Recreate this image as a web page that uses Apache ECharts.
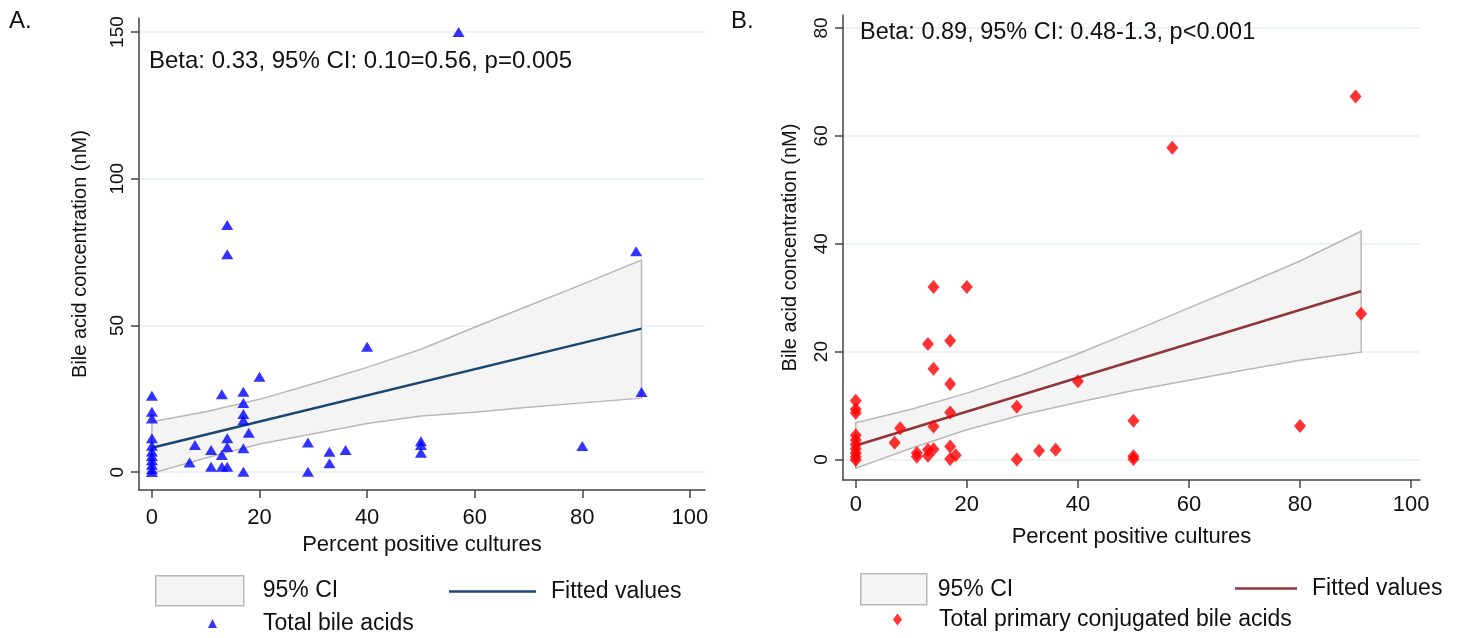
<!DOCTYPE html>
<html>
<head>
<meta charset="utf-8">
<script src="https://cdn.jsdelivr.net/npm/echarts@6/dist/echarts.min.js"></script>
<style>
  html, body { margin: 0; padding: 0; background: #fff; }
  #chart { width: 1460px; height: 638px; }
</style>
</head>
<body>
<div id="chart"></div>
<script>
// tick labels
var xTicks = [0, 20, 40, 60, 80, 100]
var yTicksA = [0, 50, 100, 150]
var yTicksB = [0, 20, 40, 60, 80]

// A. total bile acids vs percent positive cultures
var pctA = [0, 0, 0, 0, 0, 0, 0, 0, 0, 0, 0,
  7, 8, 11, 11, 13, 13, 13, 14, 14, 14, 14, 14,
  17, 17, 17, 17, 17, 17, 18, 20, 29, 29, 33, 33, 36, 40,
  50, 50, 50, 57, 80, 90, 91]
var bileA = [26, 20.6, 18.3, 11.5, 9, 7, 5.5, 4, 2.5, 1, 0,
  3.3, 9.2, 7.5, 1.8, 26.5, 5.8, 1.8, 84.2, 74.3, 11.5, 8.6, 1.8,
  27.4, 23.6, 19.8, 17.7, 8.1, 0.1, 13.4, 32.5, 10.1, 0.1, 6.9, 3.0, 7.5, 42.7,
  10.5, 9.2, 6.6, 150, 8.9, 75.3, 27.3]
var fitXA = [0, 91]
var fitA = [8.3, 48.9]
var ciXA = [0, 10, 20, 30, 40, 50, 60, 70, 80, 91]
var ciHiA = [17.2, 20.6, 24.8, 30.1, 35.7, 41.9, 49.4, 56.7, 64.0, 72.3]
var ciLoA = [-0.4, 4.8, 9.6, 13.1, 16.6, 19.1, 20.4, 22.1, 23.6, 25.2]

// B. total primary conjugated bile acids
var pctB = [0, 0, 0, 0, 0, 0, 0, 0, 0, 0,
  7, 8, 11, 11, 13, 13, 13, 14, 14, 14, 14,
  17, 17, 17, 17, 17, 18, 20, 29, 29, 33, 36, 40,
  50, 50, 50, 57, 80, 90, 91]
var bileB = [10.9, 9.3, 8.6, 4.5, 3.6, 2.8, 2.0, 1.2, 0.5, -0.1,
  3.1, 5.8, 1.2, 0.5, 21.4, 1.8, 0.7, 32, 16.8, 6.1, 1.9,
  22, 14, 8.7, 2.4, 0.1, 0.8, 32, 9.8, 0, 1.6, 1.8, 14.5,
  7.2, 0.6, 0.1, 57.8, 6.2, 67.3, 27]
var fitXB = [0, 91]
var fitB = [2.6, 31.2]
var ciXB = [0, 10, 20, 30, 40, 50, 60, 70, 80, 91]
var ciHiB = [6.8, 9.3, 12.3, 15.7, 19.6, 23.8, 28.1, 32.4, 36.8, 42.3]
var ciLoB = [-1.6, 2.1, 5.5, 8.3, 10.6, 12.8, 14.7, 16.6, 18.4, 19.9]

var FONT = 'Liberation Sans'
var zip = function (xs, ys) { return xs.map(function (x, i) { return [x, ys[i]] }) }

function xAxis(idx, min, max, margin, gap) {
  return {
    type: 'value', gridIndex: idx, min: min, max: max,
    axisLine: { show: true, onZero: false, lineStyle: { color: '#444', width: 1.5 } },
    axisTick: { show: true, length: 8, customValues: xTicks, lineStyle: { color: '#444', width: 1.5 } },
    axisLabel: { customValues: xTicks, margin: margin, fontSize: 22, color: '#111', fontFamily: FONT },
    splitLine: { show: false },
    name: 'Percent positive cultures', nameLocation: 'middle', nameGap: gap,
    nameTextStyle: { fontSize: 22, color: '#111', fontFamily: FONT }
  }
}

function yAxis(idx, min, max, ticks, gap) {
  return {
    type: 'value', gridIndex: idx, min: min, max: max,
    axisLine: { show: true, onZero: false, lineStyle: { color: '#444', width: 1.5 } },
    axisTick: { show: true, length: 8, customValues: ticks, lineStyle: { color: '#444', width: 1.5 } },
    axisLabel: { customValues: ticks, rotate: 90, margin: 12, fontSize: 19, color: '#111', fontFamily: FONT },
    splitLine: { show: true, lineStyle: { color: '#e6eef0', width: 1.5 } },
    name: 'Bile acid concentration (nM)', nameLocation: 'middle', nameGap: gap,
    nameTextStyle: { fontSize: 20, color: '#111', fontFamily: FONT }
  }
}

function band(idx, bx, lo, hi) {
  return {
    name: '95% CI', type: 'custom', xAxisIndex: idx, yAxisIndex: idx,
    silent: true, clip: false, z: 1, data: [0],
    renderItem: function (params, api) {
      var pts = bx.map(function (x, i) { return api.coord([x, hi[i]]) })
      for (var i = bx.length - 1; i >= 0; i--) pts.push(api.coord([bx[i], lo[i]]))
      return {
        type: 'polygon', shape: { points: pts },
        style: { fill: '#f4f4f4', stroke: '#b8b8b8', lineWidth: 1.5 }
      }
    }
  }
}

function legend(name, left, top, opts) {
  return {
    left: left, top: top, padding: 0, selectedMode: false,
    itemWidth: opts.w, itemHeight: opts.h,
    data: [{ name: name, icon: opts.icon, itemStyle: opts.style }],
    textStyle: { fontSize: 23, color: '#111', fontFamily: FONT, padding: [0, 0, 0, opts.gap] }
  }
}

var chart = echarts.init(document.getElementById('chart'), null, { renderer: 'canvas' })

var option = {
  backgroundColor: '#fff',
  animation: false,
  title: [
    { text: 'A.', left: 4, top: 4, textStyle: { fontSize: 24, fontWeight: 'normal', color: '#111', fontFamily: FONT } },
    { text: 'B.', left: 726, top: 4, textStyle: { fontSize: 24, fontWeight: 'normal', color: '#111', fontFamily: FONT } },
    { text: 'Beta: 0.33, 95% CI: 0.10=0.56, p=0.005', left: 144, top: 44, textStyle: { fontSize: 24, fontWeight: 'normal', color: '#111', fontFamily: FONT } },
    { text: 'Beta: 0.89, 95% CI: 0.48-1.3, p<0.001', left: 855, top: 16, textStyle: { fontSize: 23.5, fontWeight: 'normal', color: '#111', fontFamily: FONT } }
  ],
  grid: [
    { left: 139, top: 18, width: 566, height: 472 },
    { left: 843, top: 15, width: 577, height: 465 }
  ],
  xAxis: [xAxis(0, -2.4, 102.8, 17, 36), xAxis(1, -2.3, 101.6, 14, 46)],
  yAxis: [yAxis(0, -6.1, 154.8, yTicksA, 49), yAxis(1, -3.8, 82.4, yTicksB, 43)],
  legend: [
    legend('95% CI', 155, 575, { w: 88, h: 30, icon: 'rect', gap: 14, style: { color: '#f4f4f4', borderColor: '#b8b8b8', borderWidth: 1.5 } }),
    legend('Fitted values', 449, 580, { w: 87, h: 2.5, icon: 'rect', gap: 10, style: { color: '#1a476f' } }),
    legend('Total bile acids', 208, 612, { w: 9, h: 9, icon: 'triangle', gap: 41, style: { color: '#0000ff' } }),
    legend('95% CI ', 860, 573, { w: 66, h: 31, icon: 'rect', gap: 6, style: { color: '#f4f4f4', borderColor: '#b8b8b8', borderWidth: 1.5 } }),
    legend('Fitted values ', 1235, 577, { w: 62, h: 2.5, icon: 'rect', gap: 10, style: { color: '#90353b' } }),
    legend('Total primary conjugated bile acids', 893, 608, { w: 9, h: 12, icon: 'diamond', gap: 32, style: { color: '#ff0000' } })
  ],
  series: [
    band(0, ciXA, ciLoA, ciHiA),
    {
      name: 'Fitted values', type: 'line', xAxisIndex: 0, yAxisIndex: 0, z: 2,
      data: zip(fitXA, fitA), showSymbol: false, silent: true,
      itemStyle: { color: '#1a476f' }, lineStyle: { color: '#1a476f', width: 2.5 }
    },
    {
      name: 'Total bile acids', type: 'scatter', xAxisIndex: 0, yAxisIndex: 0, z: 3,
      data: zip(pctA, bileA), symbol: 'triangle', symbolSize: [12, 10],
      itemStyle: { color: '#0000ff' }
    },
    Object.assign(band(1, ciXB, ciLoB, ciHiB), { name: '95% CI ' }),
    {
      name: 'Fitted values ', type: 'line', xAxisIndex: 1, yAxisIndex: 1, z: 2,
      data: zip(fitXB, fitB), showSymbol: false, silent: true,
      itemStyle: { color: '#90353b' }, lineStyle: { color: '#90353b', width: 2.5 }
    },
    {
      name: 'Total primary conjugated bile acids', type: 'scatter', xAxisIndex: 1, yAxisIndex: 1, z: 3,
      data: zip(pctB, bileB), symbol: 'diamond', symbolSize: [12, 14],
      itemStyle: { color: '#ff0000' }
    }
  ]
}

chart.setOption(option)
</script>
</body>
</html>
